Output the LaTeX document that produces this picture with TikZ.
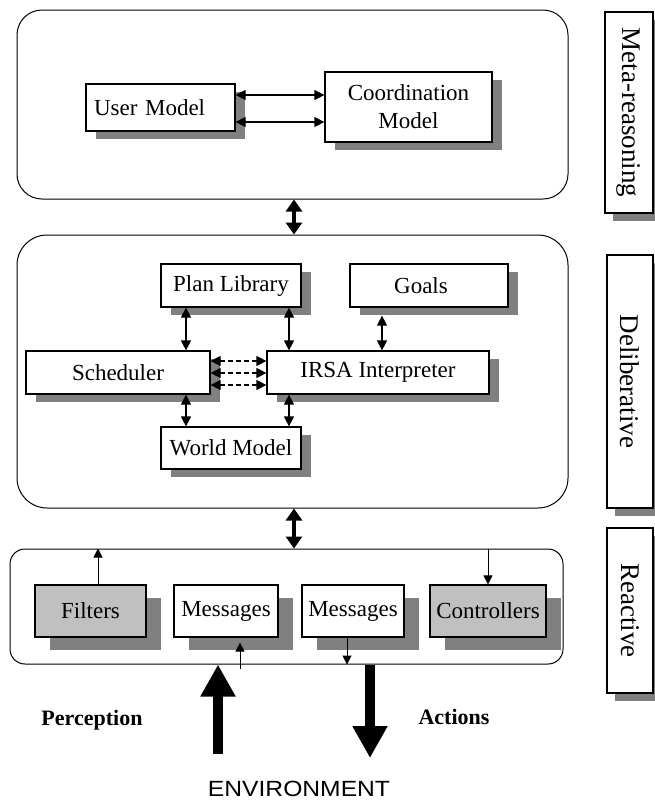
\documentclass[tikz,border=0pt]{standalone}
\usepackage{fontspec}
\setmainfont{Liberation Serif}
\newfontfamily\envfont{Liberation Sans}
\usetikzlibrary{arrows.meta,shadows}
\definecolor{shadowgray}{HTML}{808080}
\definecolor{fillgray}{HTML}{C0C0C0}
\begin{document}
\begin{tikzpicture}[x=1pt,y=-1pt,
  boxfont/.style={font=\fontsize{23pt}{28pt}\selectfont},
  layer/.style={draw, line width=1pt, rounded corners=#1, inner sep=0pt},
  blkbase/.style={draw, line width=1.2pt, fill=white, boxfont, inner sep=0pt, align=center},
  blk/.style={blkbase, drop shadow={shadow xshift=10pt, shadow yshift=-8pt, fill=shadowgray, opacity=1}},
  rblk/.style={blkbase, drop shadow={shadow xshift=15pt, shadow yshift=-13pt, fill=shadowgray, opacity=1}},
  lbl/.style={draw, line width=1.2pt, fill=white, inner sep=0pt, font=\fontsize{27pt}{32pt}\selectfont,
    drop shadow={shadow xshift=8pt, shadow yshift=-8pt, fill=shadowgray, opacity=1}},
  dbl/.style={line width=1.2pt, arrows={Triangle[length=10pt,width=10pt]-Triangle[length=10pt,width=10pt]}},
  bigdbl/.style={line width=4pt, arrows={Triangle[length=12pt,width=16pt]-Triangle[length=12pt,width=16pt]}},
  dsh/.style={dbl, dash pattern=on 5pt off 3pt},
  sarr/.style={line width=1pt, arrows={-Triangle[length=9pt,width=9pt]}},
  fat/.style={line width=10pt, arrows={-Triangle[length=32pt,width=33pt]}},
  caption/.style={inner sep=0pt, font=\bfseries\fontsize{22pt}{26pt}\selectfont}
]
\clip (0,0) rectangle (655,801);
\fill[white] (0,0) rectangle (655,801);

% layers
\node[layer=25pt, minimum width=551pt, minimum height=189pt] (top) at (292.5,104.5) {};
\node[layer=30pt, minimum width=551pt, minimum height=273pt] (mid) at (292.5,371.5) {};
\node[layer=15pt, minimum width=553pt, minimum height=115pt] (react) at (286.5,606.5) {};

% side labels
\node[lbl, minimum width=48pt, minimum height=201pt] (lmeta) at (629,112.5) {\rotatebox{-90}{Meta-reasoning}};
\node[lbl, minimum width=46pt, minimum height=253pt] (ldel) at (630,381.5) {\rotatebox{-90}{Deliberative}};
\node[lbl, minimum width=46pt, minimum height=165pt] (lrea) at (630,610.5) {\rotatebox{-90}{Reactive}};

% meta-reasoning
\node[blk, minimum height=47pt, text width=133pt, inner xsep=8pt, align=left] (um) at (160.5,107.5) {User Model};
\node[blk, minimum width=167pt, minimum height=70pt] (cm) at (408.5,107) {Coordination\\Model};

% deliberative
\node[blk, minimum width=140pt, minimum height=43pt] (pl) at (231,285.5) {Plan Library};
\node[blk, minimum width=158pt, minimum height=43pt] (goals) at (429,285.5) {\hspace*{-16pt}Goals};
\node[blk, minimum width=184pt, minimum height=43pt] (sch) at (118,372.5) {Scheduler};
\node[blk, minimum width=222pt, minimum height=43pt] (irsa) at (378,372.5) {IRSA Interpreter};
\node[blk, minimum width=140pt, minimum height=42pt] (wm) at (231,448) {World Model};

% reactive
\node[rblk, fill=fillgray, minimum width=111pt, minimum height=52pt] (filt) at (90.5,611) {Filters};
\node[rblk, minimum width=104pt, minimum height=52pt] (msg1) at (226,611) {Messages};
\node[rblk, minimum width=102pt, minimum height=52pt] (msg2) at (353,611) {Messages};
\node[rblk, fill=fillgray, minimum width=116pt, minimum height=52pt] (ctrl) at (488,611) {Controllers};

% helper coordinates
\coordinate (y95) at (0,95);
\coordinate (y122) at (0,122);
\coordinate (y361) at (0,361);
\coordinate (y373) at (0,373);
\coordinate (y385) at (0,385);
\coordinate (c186) at (186,0);
\coordinate (c289) at (289,0);
\coordinate (c382) at (382,0);
\coordinate (c294) at (294,0);
\coordinate (c98) at (98,0);
\coordinate (c240) at (240,0);
\coordinate (c347) at (347,0);
\coordinate (c488) at (488,0);
\coordinate (gb) at ([yshift=-8pt]goals.south);
\coordinate (m1a) at ([yshift=-4pt]react.south -| c240);
\coordinate (m1b) at ([yshift=-5pt]msg1.south -| c240);

% connectors
\draw[dbl] (um.east |- y95) -- (cm.west |- y95);
\draw[dbl] (um.east |- y122) -- (cm.west |- y122);

\draw[bigdbl] (top.south -| c294) -- (mid.north -| c294);
\draw[bigdbl] (mid.south -| c294) -- (react.north -| c294);

\draw[dbl] (pl.south -| c186) -- (sch.north -| c186);
\draw[dbl] (pl.south -| c289) -- (irsa.north -| c289);
\draw[dbl] (gb -| c382) -- (irsa.north -| c382);
\draw[dbl] (sch.south -| c186) -- (wm.north -| c186);
\draw[dbl] (irsa.south -| c289) -- (wm.north -| c289);
\draw[dsh] (sch.east |- y361) -- (irsa.west |- y361);
\draw[dsh] (sch.east |- y373) -- (irsa.west |- y373);
\draw[dsh] (sch.east |- y385) -- (irsa.west |- y385);

\draw[sarr] (filt.north -| c98) -- (react.north -| c98);
\draw[sarr] (react.north -| c488) -- (ctrl.north -| c488);
\draw[sarr] (m1a) -- (m1b);
\draw[sarr] (msg2.south -| c347) -- (react.south -| c347);

\coordinate (pbot) at (218,754);
\coordinate (abot) at (370,758);
\draw[fat] (pbot) -- (react.south -| pbot);
\draw[fat] (react.south -| abot) -- (abot);

\node[caption] (perc) at (92,720) {Perception};
\node[caption] (act) at (454,717) {Actions};
\node[inner sep=0pt, font=\envfont\fontsize{22pt}{26pt}\selectfont] (env) at (299,789) {\scalebox{1.12}[1]{ENVIRONMENT}};
\end{tikzpicture}
\end{document}
